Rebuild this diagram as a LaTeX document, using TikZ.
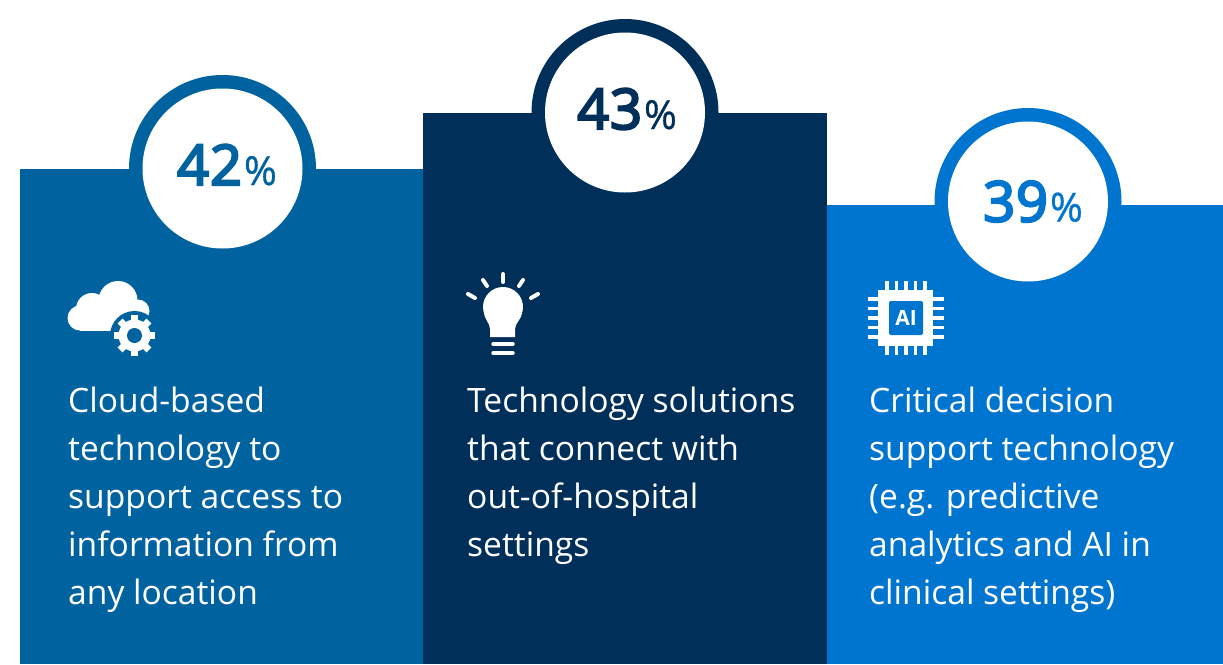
\documentclass[tikz,border=0pt]{standalone}
\usepackage{fontspec}
\setmainfont{Open Sans}
\newfontfamily\pctfont[FakeBold=0.7]{Open Sans}
\newfontfamily\numfont[FakeBold=4,LetterSpace=1.5]{Open Sans}
\definecolor{pa}{HTML}{00629F}
\definecolor{pb}{HTML}{00305A}
\definecolor{pc}{HTML}{0075CF}
\tikzset{
  panel/.style={fill=#1,draw=none},
  ring/.style={fill=#1,draw=none},
  hole/.style={fill=white,draw=none},
  desc/.style={anchor=north west,inner sep=0pt,text=white,align=left,font=\fontsize{33.6}{48}\selectfont},
  num/.style={anchor=base west,inner sep=0pt,text=#1,font=\fontsize{56}{60}\numfont},
  pct/.style={anchor=base west,inner sep=0pt,xshift=1.5pt,text=#1,font=\fontsize{40}{44}\pctfont},
  ico/.style={fill=white,draw=none},
  ray/.style={draw=white,line width=4pt,line cap=round},
  pin/.style={draw=white,line width=3.2pt},
}
\begin{document}
\begin{tikzpicture}[x=1pt,y=-1pt]
\useasboundingbox (0,0) rectangle (1223,664);
% panels and rings
\fill[ring=pa] (222.5,168.5) circle (93.5);
\fill[ring=pb] (625,112.5) circle (93.5);
\fill[ring=pc] (1028,201.5) circle (93.5);
\fill[panel=pa] (20,169) rectangle (424,664);
\fill[panel=pc] (827,205) rectangle (1223,664);
\fill[panel=pb] (423,113) rectangle (827,664);
\fill[hole] (222.5,168.5) circle (80);
\fill[hole] (625,112.5) circle (80);
\fill[hole] (1028,201.5) circle (80);
% numbers
\node[num=pa] (n1) at (177,185) {42};
\node[pct=pa] (p1) at (n1.base east) {\%};
\node[num=pb] (n2) at (577,129) {43};
\node[pct=pb] (p2) at (n2.base east) {\%};
\node[num=pc] (n3) at (983,221.5) {39};
\node[pct=pc] (p3) at (n3.base east) {\%};
% cloud icon
\fill[ico] (80,318) circle (12.5);
\fill[ico] (92,309) circle (16);
\fill[ico] (118,300.5) circle (19.5);
\fill[ico] (138,311) circle (11.5);
\fill[ico] (80,311) rectangle (140,330.5);
\fill[pa] (134.5,335.5) circle (24.5);
% gear icon
\fill[ico] (134.5,335.5) circle (16);
\foreach \a in {0,45,...,315}{
  \fill[ico,rotate around={\a:(134.5,335.5)}] (131,315) rectangle (138,325);
}
\fill[pa] (134.5,335.5) circle (7.5);
% bulb icon
\fill[ico] (503,307) circle (20);
\fill[ico] (490,337) -- (490,329) .. controls (490,323) and (484,319) .. (484,312)
  -- (522,312) .. controls (522,319) and (515,323) .. (515,329) -- (515,337) -- cycle;
\draw[ray] (503,274) -- (503,282);
\draw[ray] (483,280) -- (487,286);
\draw[ray] (523,280) -- (519,286);
\draw[ray] (468,294) -- (475,298);
\draw[ray] (538,294) -- (531,298);
\draw[ray,line width=3.5pt] (493,344) -- (513,344);
\draw[ray,line width=3.5pt] (493,353) -- (513,353);
% chip icon
\foreach \p in {887,896.5,906,915.5,925}{\draw[pin] (\p,281) -- (\p,355);}
\foreach \p in {299,308.5,318,327.5,337}{\draw[pin] (868,\p) -- (944,\p);}
\fill[ico] (878,290) rectangle (933,346);
\fill[pc,rounded corners=2pt] (889,301) rectangle (923,335);
\node[inner sep=0pt,text=white,font=\fontsize{21}{24}\selectfont\bfseries] (ai) at (906,318) {AI};
% descriptions
\node[desc] (d1) at (68,387) {Cloud-based\\technology to\\support access to\\information from\\any location};
\node[desc] (d2) at (467,387) {Technology solutions\\that connect with\\out-of-hospital\\settings};
\node[desc] (d3) at (869,387) {Critical decision\\support technology\\(e.g. predictive\\analytics and AI in\\clinical settings)};
\end{tikzpicture}
\end{document}
